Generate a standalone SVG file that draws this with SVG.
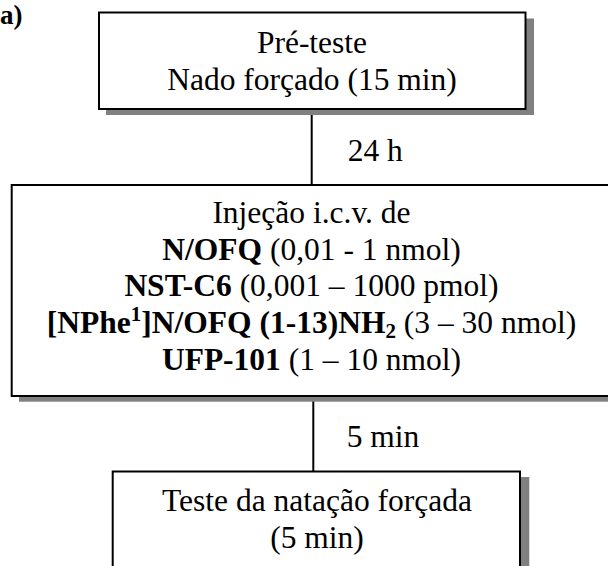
<svg xmlns="http://www.w3.org/2000/svg" width="608" height="566" viewBox="0 0 608 566">
<style>
  text { font-family: "Liberation Serif", "Times New Roman", serif; font-size: 31.5px; fill: #000; }
  .b { font-weight: bold; }
  .conn { stroke: #000; stroke-width: 2; }
  .shadow { fill: #808080; stroke: none; }
  .box { fill: #ffffff; stroke: #000000; stroke-width: 2; }
</style>
<rect x="0" y="0" width="608" height="566" fill="#ffffff"/>
<text x="0" y="24" class="b" style="font-size:27px">a)</text>
<g id="connectors">
  <line class="conn" x1="311.7" y1="109" x2="311.7" y2="184.5"/>
  <text x="347.7" y="161">24 h</text>
  <line class="conn" x1="313.3" y1="396" x2="313.3" y2="471.5"/>
  <text x="346.7" y="447">5 min</text>
</g>
<g id="pre-teste">
  <rect class="shadow" x="106" y="18.5" width="428" height="96.5"/>
  <rect class="box" x="99" y="12.5" width="426.5" height="96.5"/>
  <text x="312" y="53" text-anchor="middle">Pré-teste</text>
  <text x="312" y="90" text-anchor="middle">Nado forçado (15 min)</text>
</g>
<g id="injecao">
  <rect class="shadow" x="19" y="190.7" width="600" height="211"/>
  <rect class="box" x="11.7" y="185" width="601" height="211"/>
  <text x="311.5" y="223" text-anchor="middle">Injeção i.c.v. de</text>
  <text x="311.5" y="260" text-anchor="middle"><tspan class="b">N/OFQ</tspan> (0,01 - 1 nmol)</text>
  <text x="311.5" y="296" text-anchor="middle"><tspan class="b">NST-C6</tspan> (0,001 – 1000 pmol)</text>
  <text x="311.5" y="333" text-anchor="middle"><tspan class="b">[NPhe</tspan><tspan class="b" style="font-size:21px" dy="-12">1</tspan><tspan class="b" dy="12">]N/OFQ (1-13)NH</tspan><tspan class="b" style="font-size:21px" dy="5">2</tspan><tspan dy="-5"> (3 – 30 nmol)</tspan></text>
  <text x="311.5" y="370" text-anchor="middle"><tspan class="b">UFP-101</tspan> (1 – 10 nmol)</text>
</g>
<g id="teste">
  <rect class="shadow" x="120" y="477" width="409.3" height="110"/>
  <rect class="box" x="112.7" y="471.5" width="407.3" height="110"/>
  <text x="317" y="511" text-anchor="middle">Teste da natação forçada</text>
  <text x="317" y="548" text-anchor="middle">(5 min)</text>
</g>
</svg>
